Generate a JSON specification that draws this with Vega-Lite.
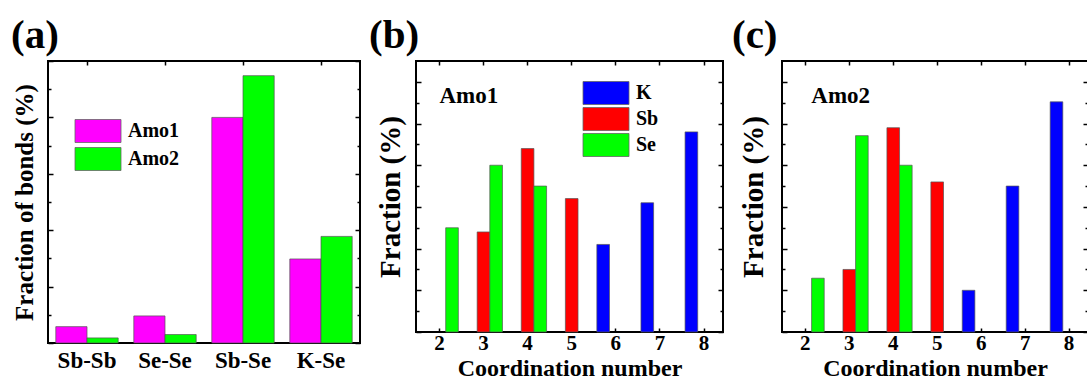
{
  "$schema": "https://vega.github.io/schema/vega-lite/v6.json",
  "padding": {"left": 10, "top": 14, "right": 0, "bottom": 0},
  "background": "white",
  "spacing": 6,
  "config": {
    "view": {"stroke": "#000", "strokeWidth": 2},
    "font": "Liberation Serif",
    "title": {"font": "Liberation Serif", "fontSize": 41, "fontWeight": "bold", "anchor": "start", "frame": "group", "offset": 3, "color": "#000"},
    "axis": {"domain": false, "grid": false, "tickColor": "#000", "tickWidth": 1.5, "labelFont": "Liberation Serif", "labelFontWeight": "bold", "labelColor": "#000", "titleFont": "Liberation Serif", "titleFontWeight": "bold", "titleColor": "#000"},
    "legend": {"labelFont": "Liberation Serif", "labelFontWeight": "bold", "labelFontSize": 20, "labelColor": "#000", "symbolType": "M-2,-1H2V1H-2Z", "symbolSize": 529, "symbolStrokeColor": "#666", "symbolStrokeWidth": 0.8, "labelOffset": 18, "rowPadding": -2, "title": null}
  },
  "datasets": {
    "bonds": [
      {"bond": "Sb-Sb", "sample": "Amo1", "fraction": 2.9},
      {"bond": "Sb-Sb", "sample": "Amo2", "fraction": 0.9},
      {"bond": "Se-Se", "sample": "Amo1", "fraction": 4.8},
      {"bond": "Se-Se", "sample": "Amo2", "fraction": 1.5},
      {"bond": "Sb-Se", "sample": "Amo1", "fraction": 40.0},
      {"bond": "Sb-Se", "sample": "Amo2", "fraction": 47.4},
      {"bond": "K-Se", "sample": "Amo1", "fraction": 14.9},
      {"bond": "K-Se", "sample": "Amo2", "fraction": 18.9}
    ],
    "amo1": [
      {"cn": 2, "element": "Se", "fraction": 25.0},
      {"cn": 3, "element": "Sb", "fraction": 24.0},
      {"cn": 3, "element": "Se", "fraction": 40.0},
      {"cn": 4, "element": "Sb", "fraction": 44.0},
      {"cn": 4, "element": "Se", "fraction": 35.0},
      {"cn": 5, "element": "Sb", "fraction": 32.0},
      {"cn": 6, "element": "K", "fraction": 21.0},
      {"cn": 7, "element": "K", "fraction": 31.0},
      {"cn": 8, "element": "K", "fraction": 48.0}
    ],
    "amo2": [
      {"cn": 2, "element": "Se", "fraction": 12.9},
      {"cn": 3, "element": "Sb", "fraction": 15.0},
      {"cn": 3, "element": "Se", "fraction": 47.1},
      {"cn": 4, "element": "Sb", "fraction": 49.0},
      {"cn": 4, "element": "Se", "fraction": 40.0},
      {"cn": 5, "element": "Sb", "fraction": 36.0},
      {"cn": 6, "element": "K", "fraction": 10.0},
      {"cn": 7, "element": "K", "fraction": 35.0},
      {"cn": 8, "element": "K", "fraction": 55.2}
    ],
    "lab1": [{"label": "Amo1"}],
    "lab2": [{"label": "Amo2"}]
  },
  "resolve": {"scale": {"x": "independent", "y": "independent", "xOffset": "independent", "color": "independent"}, "legend": {"color": "independent"}},
  "hconcat": [
    {
      "width": 312, "height": 282,
      "title": {"text": "(a)", "dx": -37},
      "data": {"name": "bonds"},
      "layer": [
        {
          "mark": {"type": "bar", "stroke": "#555", "strokeWidth": 0.7},
          "encoding": {
            "x": {"field": "bond", "type": "nominal", "sort": ["Sb-Sb", "Se-Se", "Sb-Se", "K-Se"], "scale": {"paddingInner": 0.2, "paddingOuter": 0.1},
                  "axis": {"orient": "bottom", "title": null, "labelAngle": 0, "labelFontSize": 23, "tickSize": -4, "labelPadding": 10}},
            "xOffset": {"field": "sample", "type": "nominal", "scale": {"domain": ["Amo1", "Amo2"]}},
            "y": {"field": "fraction", "type": "quantitative", "scale": {"domain": [0, 50], "nice": false},
                  "axis": {"orient": "left", "title": "Fraction of bonds (%)", "titleFontSize": 25, "labels": false, "values": [0, 5, 10, 15, 20, 25, 30, 35, 40, 45, 50],
                           "tickSize": {"condition": {"test": "datum.value % 10 === 0", "value": -5}, "value": -3}, "titlePadding": 10}},
            "color": {"field": "sample", "type": "nominal", "scale": {"domain": ["Amo1", "Amo2"], "range": ["#ff00ff", "#00ff00"]},
                      "legend": {"orient": "none", "legendX": 38, "legendY": 58, "rowPadding": 0}}
          }
        },
        {
          "mark": {"type": "bar", "opacity": 0},
          "encoding": {
            "x": {"field": "bond", "type": "nominal", "sort": ["Sb-Sb", "Se-Se", "Sb-Se", "K-Se"],
                  "axis": {"orient": "top", "title": null, "labels": false, "tickSize": -4}},
            "xOffset": {"field": "sample", "type": "nominal"},
            "y": {"field": "fraction", "type": "quantitative",
                  "axis": {"orient": "right", "title": null, "labels": false, "values": [0, 5, 10, 15, 20, 25, 30, 35, 40, 45, 50],
                           "tickSize": {"condition": {"test": "datum.value % 10 === 0", "value": -5}, "value": -3}}}
          }
        }
      ],
      "resolve": {"axis": {"x": "independent", "y": "independent"}}
    },
    {
      "width": 307, "height": 271,
      "title": {"text": "(b)", "dx": -47},
      "data": {"name": "amo1"},
      "layer": [
        {
          "mark": {"type": "bar", "stroke": "#555", "strokeWidth": 0.7},
          "encoding": {
            "x": {"field": "cn", "type": "ordinal", "scale": {"domain": [2, 3, 4, 5, 6, 7, 8], "paddingInner": 0.14, "paddingOuter": 0.05, "align": 1},
                  "axis": {"orient": "bottom", "title": "Coordination number", "titleFontSize": 24, "titlePadding": 3, "labelAngle": 0, "labelFontSize": 21, "tickSize": -4, "labelPadding": 4}},
            "xOffset": {"field": "element", "type": "nominal", "scale": {"domain": ["K", "Sb", "Se"]}},
            "y": {"field": "fraction", "type": "quantitative", "scale": {"domain": [0, 65], "nice": false},
                  "axis": {"orient": "left", "title": "Fraction (%)", "titleFontSize": 29, "labels": false, "values": [0, 5, 10, 15, 20, 25, 30, 35, 40, 45, 50, 55, 60],
                           "tickSize": {"condition": {"test": "datum.value % 10 === 0", "value": -5}, "value": -3}, "titlePadding": 10}},
            "color": {"field": "element", "type": "nominal", "scale": {"domain": ["K", "Sb", "Se"], "range": ["#0000ff", "#ff0000", "#00ff00"]},
                      "legend": {"orient": "none", "legendX": 178, "legendY": 20}}
          }
        },
        {
          "mark": {"type": "bar", "opacity": 0},
          "encoding": {
            "x": {"field": "cn", "type": "ordinal", "axis": {"orient": "top", "title": null, "labels": false, "tickSize": -4}},
            "xOffset": {"field": "element", "type": "nominal"},
            "y": {"field": "fraction", "type": "quantitative",
                  "axis": {"orient": "right", "title": null, "labels": false, "values": [0, 5, 10, 15, 20, 25, 30, 35, 40, 45, 50, 55, 60],
                           "tickSize": {"condition": {"test": "datum.value % 10 === 0", "value": -5}, "value": -3}}}
          }
        },
        {
          "data": {"name": "lab1"},
          "mark": {"type": "text", "align": "left", "baseline": "alphabetic", "font": "Liberation Serif", "fontWeight": "bold", "fontSize": 23, "color": "#000"},
          "encoding": {
            "x": {"datum": 2, "type": "ordinal", "axis": null},
            "y": {"datum": 55, "type": "quantitative", "axis": null},
            "text": {"field": "label"}
          }
        }
      ],
      "resolve": {"axis": {"x": "independent", "y": "independent"}}
    },
    {
      "width": 306, "height": 271,
      "title": {"text": "(c)", "dx": -50},
      "data": {"name": "amo2"},
      "layer": [
        {
          "mark": {"type": "bar", "stroke": "#555", "strokeWidth": 0.7},
          "encoding": {
            "x": {"field": "cn", "type": "ordinal", "scale": {"domain": [2, 3, 4, 5, 6, 7, 8], "paddingInner": 0.14, "paddingOuter": 0.05, "align": 1},
                  "axis": {"orient": "bottom", "title": "Coordination number", "titleFontSize": 24, "titlePadding": 3, "labelAngle": 0, "labelFontSize": 21, "tickSize": -4, "labelPadding": 4}},
            "xOffset": {"field": "element", "type": "nominal", "scale": {"domain": ["K", "Sb", "Se"]}},
            "y": {"field": "fraction", "type": "quantitative", "scale": {"domain": [0, 65], "nice": false},
                  "axis": {"orient": "left", "title": "Fraction (%)", "titleFontSize": 29, "labels": false, "values": [0, 5, 10, 15, 20, 25, 30, 35, 40, 45, 50, 55, 60],
                           "tickSize": {"condition": {"test": "datum.value % 10 === 0", "value": -5}, "value": -3}, "titlePadding": 13}},
            "color": {"field": "element", "type": "nominal", "scale": {"domain": ["K", "Sb", "Se"], "range": ["#0000ff", "#ff0000", "#00ff00"]}, "legend": null}
          }
        },
        {
          "mark": {"type": "bar", "opacity": 0},
          "encoding": {
            "x": {"field": "cn", "type": "ordinal", "axis": {"orient": "top", "title": null, "labels": false, "tickSize": -4}},
            "xOffset": {"field": "element", "type": "nominal"},
            "y": {"field": "fraction", "type": "quantitative",
                  "axis": {"orient": "right", "title": null, "labels": false, "values": [0, 5, 10, 15, 20, 25, 30, 35, 40, 45, 50, 55, 60],
                           "tickSize": {"condition": {"test": "datum.value % 10 === 0", "value": -5}, "value": -3}}}
          }
        },
        {
          "data": {"name": "lab2"},
          "mark": {"type": "text", "align": "left", "baseline": "alphabetic", "font": "Liberation Serif", "fontWeight": "bold", "fontSize": 23, "color": "#000", "dx": 6},
          "encoding": {
            "x": {"datum": 2, "type": "ordinal", "axis": null},
            "y": {"datum": 55, "type": "quantitative", "axis": null},
            "text": {"field": "label"}
          }
        }
      ],
      "resolve": {"axis": {"x": "independent", "y": "independent"}}
    }
  ]
}
